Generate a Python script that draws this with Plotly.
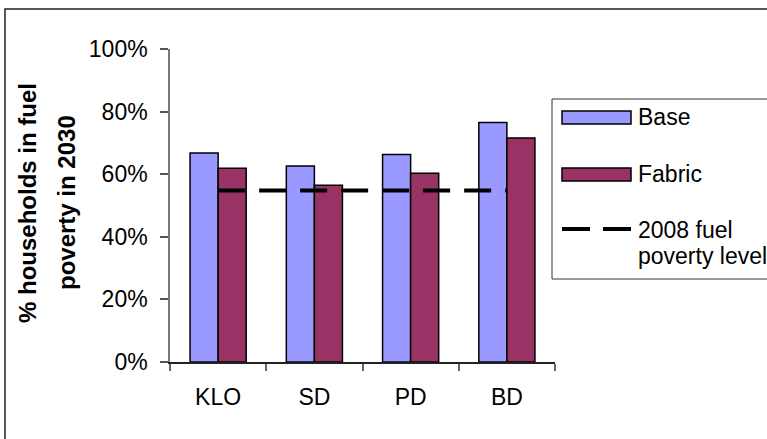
import plotly.graph_objects as go

categories = ["KLO", "SD", "PD", "BD"]
base_values = [0.668, 0.626, 0.663, 0.765]
fabric_values = [0.619, 0.565, 0.603, 0.716]
poverty_2008 = [0.548, 0.548, 0.548, 0.548]
y_tick_values = [0, 0.2, 0.4, 0.6, 0.8, 1.0]
y_tick_labels = ["0%", "20%", "40%", "60%", "80%", "100%"]
series_names = ["Base", "Fabric", "2008 fuel", "poverty level"]

W, H = 767, 439
L, R, T, B = 170, 555, 49, 362  # plot area in pixels

def px(x):
    return (x - L) / (R - L)

def py(y):
    return (B - y) / (B - T)

FONT = "Liberation Sans, Arial, sans-serif"
BASE_COL = "#9999FF"
FAB_COL = "#993366"

fig = go.Figure()
fig.add_trace(go.Bar(x=categories, y=base_values, name=series_names[0],
                     marker=dict(color=BASE_COL, line=dict(color="black", width=1.5)),
                     showlegend=False))
fig.add_trace(go.Bar(x=categories, y=fabric_values, name=series_names[1],
                     marker=dict(color=FAB_COL, line=dict(color="black", width=1.5)),
                     showlegend=False))
fig.add_trace(go.Scatter(x=categories, y=poverty_2008, mode="lines",
                         name="2008 fuel poverty level",
                         line=dict(color="black", width=4, dash="27px,14px"),
                         showlegend=False))

shapes = []
# outer chart border
shapes.append(dict(type="rect", xref="paper", yref="paper",
                   x0=px(5), x1=px(800), y0=py(470), y1=py(9),
                   line=dict(color="#222", width=1.5), fillcolor="rgba(0,0,0,0)", layer="below"))
# legend box
shapes.append(dict(type="rect", xref="paper", yref="paper",
                   x0=px(552), x1=px(800), y0=py(279), y1=py(99),
                   line=dict(color="#333", width=1), fillcolor="white"))
# legend symbols
shapes.append(dict(type="rect", xref="paper", yref="paper",
                   x0=px(562), x1=px(631), y0=py(124), y1=py(111),
                   line=dict(color="black", width=1.5), fillcolor=BASE_COL))
shapes.append(dict(type="rect", xref="paper", yref="paper",
                   x0=px(562), x1=px(631), y0=py(181), y1=py(168),
                   line=dict(color="black", width=1.5), fillcolor=FAB_COL))
shapes.append(dict(type="line", xref="paper", yref="paper",
                   x0=px(562), x1=px(590), y0=py(229), y1=py(229),
                   line=dict(color="black", width=4)))
shapes.append(dict(type="line", xref="paper", yref="paper",
                   x0=px(603), x1=px(631), y0=py(229), y1=py(229),
                   line=dict(color="black", width=4)))

annotations = []
legend_text_pos = [(series_names[0], 117), (series_names[1], 174),
                   (series_names[2], 230), (series_names[3], 256)]
for txt, yy in legend_text_pos:
    annotations.append(dict(text=txt, xref="paper", yref="paper",
                            x=px(636), y=py(yy), xanchor="left", yanchor="middle",
                            showarrow=False, font=dict(family=FONT, size=23, color="black")))
# y-axis title (two lines)
for txt, xx in [("% households in fuel", 28), ("poverty in 2030", 67)]:
    annotations.append(dict(text="<b>" + txt + "</b>", xref="paper", yref="paper",
                            x=px(xx), y=py(203), xanchor="center", yanchor="middle",
                            textangle=-90, showarrow=False,
                            font=dict(family=FONT, size=24, color="black")))

fig.update_layout(
    width=W, height=H,
    margin=dict(l=L, r=W - R, t=T, b=H - B),
    paper_bgcolor="white", plot_bgcolor="white",
    barmode="group", bargap=0.417, bargroupgap=0,
    font=dict(family=FONT, size=23, color="black"),
    shapes=shapes, annotations=annotations,
    showlegend=False,
)
fig.update_xaxes(type="category", showline=True, linecolor="#222", linewidth=1.5,
                 ticks="outside", tickson="boundaries", ticklen=7, tickcolor="#666",
                 tickwidth=1.5, showgrid=False, ticklabelstandoff=14,
                 tickfont=dict(family=FONT, size=23))
fig.update_yaxes(range=[0, 1], tickvals=y_tick_values, ticktext=y_tick_labels,
                 showline=True, linecolor="#777", linewidth=1.5,
                 ticks="outside", ticklen=8, tickcolor="#555", tickwidth=1.5,
                 showgrid=False, zeroline=False, ticklabelstandoff=8,
                 tickfont=dict(family=FONT, size=23))

fig.write_html("out.html")
